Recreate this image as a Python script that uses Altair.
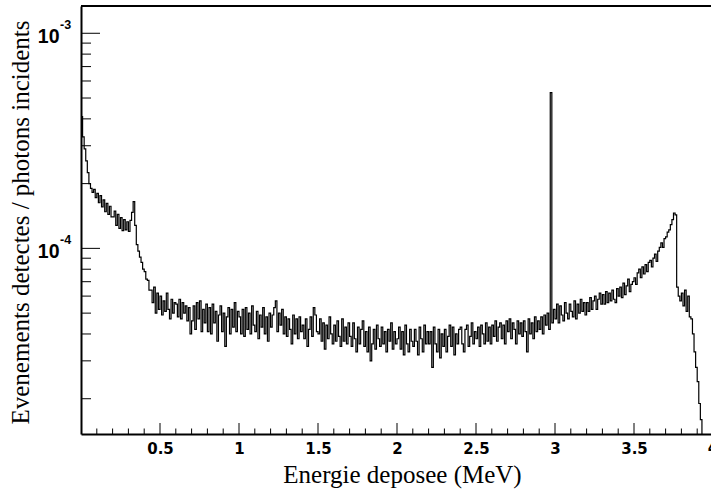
import altair as alt
import pandas as pd

# ---- data: counts per 0.01 MeV bin, in units of 1e-6 (events / incident photon)
seg_000_049 = [410, 330, 290, 255, 225, 200, 190, 182, 188, 172,
               180, 163, 176, 156, 168, 148, 162, 144, 157, 140,
               140, 149, 128, 144, 124, 139, 121, 136, 122, 133,
               120, 135, 147, 165, 128, 104, 97, 91, 86, 80,
               78, 72, 71, 64, 64, 56, 66, 50, 62, 52]
seg_050_099 = [60, 49, 57, 51, 62, 52, 47, 58, 50, 56,
               55, 48, 58, 47, 56, 50, 54, 46, 53, 40,
               46, 54, 42, 56, 47, 57, 41, 52, 45, 55,
               41, 53, 40, 55, 45, 51, 37, 49, 54, 41,
               50, 35, 48, 53, 40, 52, 43, 56, 41, 51]
seg_100_149 = [48, 40, 52, 39, 53, 42, 50, 40, 54, 44,
               41, 51, 38, 49, 43, 53, 40, 48, 37, 50,
               43, 49, 53, 57, 41, 50, 44, 52, 40, 48,
               39, 47, 42, 36, 49, 40, 47, 38, 48, 41,
               44, 38, 47, 35, 42, 48, 39, 53, 49, 41]
seg_150_199 = [40, 47, 37, 45, 34, 44, 38, 48, 40, 36,
               44, 37, 46, 39, 35, 47, 37, 43, 36, 45,
               39, 35, 45, 38, 33, 43, 36, 42, 46, 35,
               41, 33, 43, 30, 36, 42, 34, 44, 38, 35,
               43, 36, 41, 33, 42, 37, 45, 34, 41, 36]
seg_200_249 = [38, 43, 34, 41, 32, 44, 36, 33, 42, 37,
               35, 42, 37, 32, 43, 38, 33, 44, 36, 41,
               36, 41, 28, 43, 36, 33, 42, 31, 40, 35,
               42, 33, 39, 44, 35, 43, 32, 40, 36, 42,
               43, 36, 33, 42, 44, 35, 39, 45, 36, 41]
seg_250_299 = [38, 43, 35, 44, 40, 36, 45, 37, 43, 36,
               44, 39, 46, 37, 43, 45, 38, 44, 36, 46,
               41, 47, 38, 45, 42, 36, 46, 40, 45, 39,
               46, 41, 33, 47, 40, 45, 38, 48, 41, 46,
               42, 48, 40, 49, 44, 50, 42, 530, 45, 52]
seg_300_349 = [47, 55, 45, 54, 49, 46, 56, 50, 47, 55,
               51, 48, 57, 47, 55, 50, 58, 51, 56, 49,
               56, 51, 59, 52, 57, 60, 52, 58, 62, 55,
               61, 55, 63, 56, 62, 57, 64, 58, 56, 65,
               60, 66, 59, 69, 61, 67, 72, 63, 68, 70]
seg_350_394 = [73, 68, 77, 80, 73, 82, 76, 84, 78, 86,
               88, 82, 90, 94, 87, 97, 101, 106, 101, 111,
               113, 119, 122, 129, 136, 146, 143, 66, 60, 57,
               62, 54, 64, 51, 60, 48, 47, 40, 33, 28,
               24, 19, 16, 13, 8]

BIN_WIDTH = 0.01
counts = (seg_000_049 + seg_050_099 + seg_100_149 + seg_150_199 +
          seg_200_249 + seg_250_299 + seg_300_349 + seg_350_394)
edges = [round(i * BIN_WIDTH, 4) for i in range(len(counts) + 1)]
vals = [c * 1e-6 for c in counts] + [counts[-1] * 1e-6]
hist = pd.DataFrame({"e": edges, "v": vals})

x_major = [0.5, 1, 1.5, 2, 2.5, 3, 3.5]
x_edge_label = [4]
x_minor = [round(0.1 * i, 2) for i in range(1, 40) if i % 5 != 0]
y_major = [1e-3, 1e-4]
y_major_exp = ["-3", "-4"]
y_minor = [k * 1e-5 for k in range(2, 10)] + [k * 1e-4 for k in range(2, 10)]

W, H = 630, 428
xscale = alt.Scale(domain=[0, W / 158.0], nice=False, zero=False)
yscale = alt.Scale(type="log", domain=[1.371e-5, 1.339e-3], nice=False)

xaxis = alt.Axis(values=x_major, labelExpr="format(datum.value, '~g')",
                 ticks=False, tickSize=0, grid=False,
                 domainColor="black", domainWidth=2,
                 labelFont="DejaVu Sans", labelFontWeight="bold", labelFontSize=15,
                 labelColor="black", labelPadding=7, labelOverlap=False,
                 labelFlush=False, labelBound=False,
                 title="Energie deposee (MeV)", titleFont="Liberation Serif",
                 titleFontSize=25, titleFontWeight="normal", titleColor="black",
                 titleX=321, titleY=48, titleBaseline="alphabetic", titleAlign="center")
yaxis = alt.Axis(values=y_major, labelExpr="'10'", ticks=False, tickSize=0, grid=False,
                 domainColor="black", domainWidth=2,
                 labelFont="Liberation Sans", labelFontWeight="bold", labelFontSize=19.5,
                 labelColor="black", labelPadding=22, labelBaseline="alphabetic",
                 labelOffset=9, labelAlign="right", labelOverlap=False,
                 title="Evenements detectes / photons incidents",
                 titleFont="Liberation Serif", titleFontSize=25, titleFontWeight="normal",
                 titleColor="black", titleX=-53, titleY=216, titleAngle=270,
                 titleBaseline="alphabetic", titleAlign="center")

X = lambda f: alt.X(f, scale=xscale, axis=xaxis)
Y = lambda f: alt.Y(f, scale=yscale, axis=yaxis)

line = alt.Chart(hist).mark_line(interpolate="step-after", color="black",
                                 strokeWidth=1.2, clip=True).encode(
    x=X("e:Q"), y=Y("v:Q"))

ymaj = alt.Chart(pd.DataFrame({"v": y_major})).mark_rule(color="black", strokeWidth=1).encode(
    y=Y("v:Q"), x=alt.value(0), x2=alt.value(19))
ymin = alt.Chart(pd.DataFrame({"v": y_minor})).mark_rule(color="black", strokeWidth=1).encode(
    y=Y("v:Q"), x=alt.value(0), x2=alt.value(10))
xmaj = alt.Chart(pd.DataFrame({"e": x_major})).mark_rule(color="black", strokeWidth=1).encode(
    x=X("e:Q"), y=alt.value(H), y2=alt.value(H - 11))
xmin = alt.Chart(pd.DataFrame({"e": x_minor})).mark_rule(color="black", strokeWidth=1).encode(
    x=X("e:Q"), y=alt.value(H), y2=alt.value(H - 5.5))
top = alt.Chart(pd.DataFrame({"a": [0]})).mark_rule(color="black", strokeWidth=2).encode(
    x=alt.value(0), x2=alt.value(W), y=alt.value(0))
sup = alt.Chart(pd.DataFrame({"v": y_major, "t": y_major_exp})).mark_text(
    align="left", baseline="alphabetic", font="Liberation Sans", fontWeight="bold",
    fontSize=12.5, dy=-4, color="black").encode(
    y=Y("v:Q"), x=alt.value(-21), text="t:N")
edge_lab = alt.Chart(pd.DataFrame({"e": x_edge_label, "t": ["4"]})).mark_text(
    align="center", baseline="top", font="DejaVu Sans", fontWeight="bold",
    fontSize=15, color="black").encode(
    x=X("e:Q"), y=alt.value(H + 7), text="t:N")

chart = alt.layer(line, ymaj, ymin, xmaj, xmin, top, sup, edge_lab).properties(
    width=W, height=H,
    autosize=alt.AutoSizeParams(type="none"),
    padding={"left": 81, "top": 6, "right": 0, "bottom": 59},
    background="white",
).configure_view(stroke=None)

chart.save("out.html", embed_options={"renderer": "svg", "actions": False})
